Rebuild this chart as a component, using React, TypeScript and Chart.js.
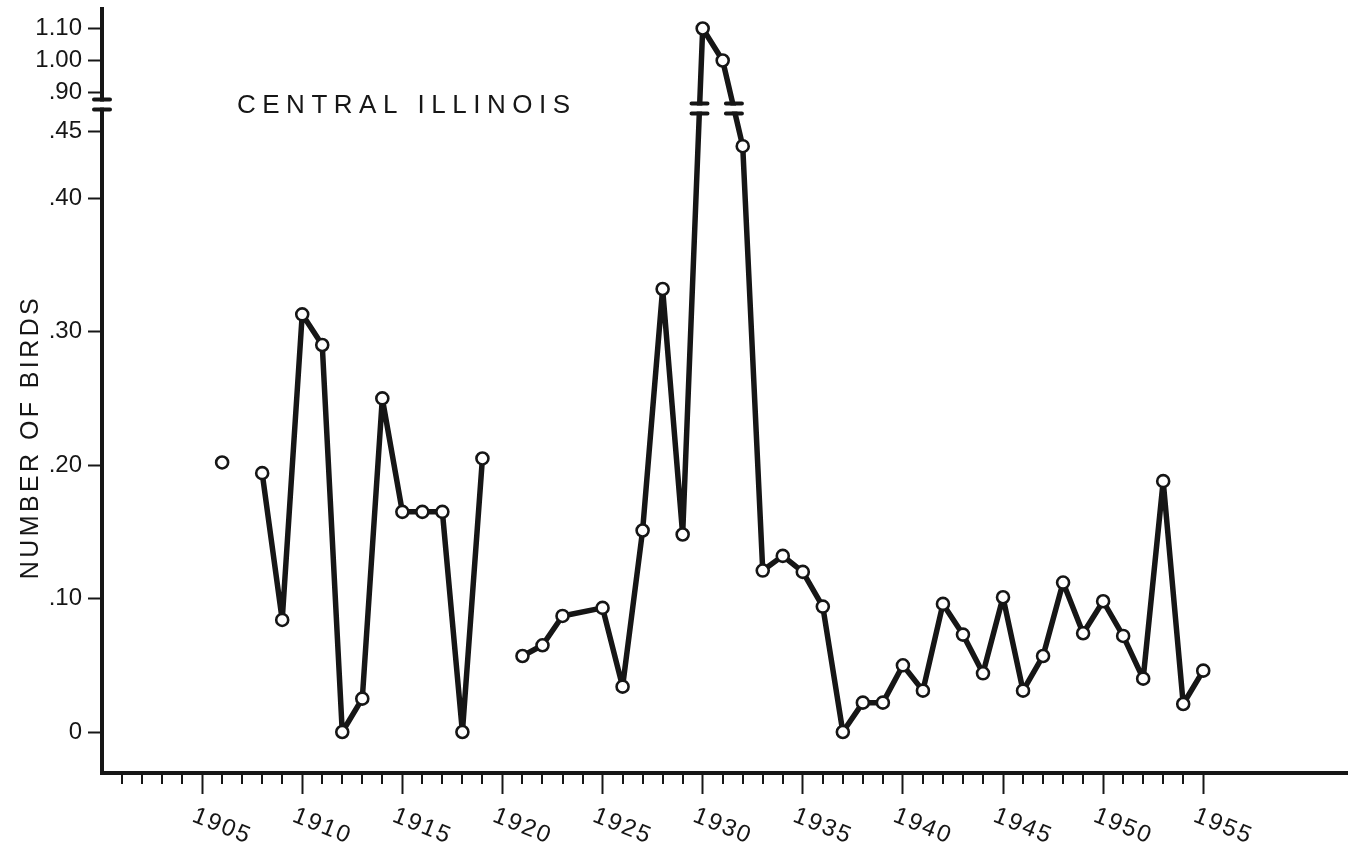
import React, { useEffect, useRef } from "react";
import { Chart, registerables } from "chart.js";

Chart.register(...registerables);

// ---- Data ----
const years = [
  1906, 1907, 1908, 1909, 1910, 1911, 1912, 1913, 1914, 1915, 1916, 1917, 1918, 1919, 1920,
  1921, 1922, 1923, 1925, 1926, 1927, 1928, 1929, 1930, 1931, 1932, 1933, 1934, 1935, 1936,
  1937, 1938, 1939, 1940, 1941, 1942, 1943, 1944, 1945, 1946, 1947, 1948, 1949, 1950, 1951,
  1952, 1953, 1954, 1955,
];
const birds: (number | null)[] = [
  0.202, null, 0.194, 0.084, 0.313, 0.29, 0.0, 0.025, 0.25, 0.165, 0.165, 0.165, 0.0, 0.205, null,
  0.057, 0.065, 0.087, 0.093, 0.034, 0.151, 0.332, 0.148, 1.1, 1.0, 0.439, 0.121, 0.132, 0.12, 0.094,
  0.0, 0.022, 0.022, 0.05, 0.031, 0.096, 0.073, 0.044, 0.101, 0.031, 0.057, 0.112, 0.074, 0.098, 0.072,
  0.04, 0.188, 0.021, 0.046,
];

const yTickValues = [0, 0.1, 0.2, 0.3, 0.4, 0.45, 0.9, 1.0, 1.1];
const yTickLabels = ["0", ".10", ".20", ".30", ".40", ".45", ".90", "1.00", "1.10"];
const xLabelYears = [1905, 1910, 1915, 1920, 1925, 1930, 1935, 1940, 1945, 1950, 1955];
const minorTickYears = [
  1901, 1902, 1903, 1904, 1906, 1907, 1908, 1909, 1911, 1912, 1913, 1914, 1916, 1917, 1918, 1919,
  1921, 1922, 1923, 1924, 1926, 1927, 1928, 1929, 1931, 1932, 1933, 1934, 1936, 1937, 1938, 1939,
  1941, 1942, 1943, 1944, 1946, 1947, 1948, 1949, 1951, 1952, 1953, 1954,
];

const TITLE = "CENTRAL ILLINOIS";
const Y_TITLE = "NUMBER OF BIRDS";

// ---- Broken-axis mapping ----
const LOWER_MAX = 0.45;
const UPPER_MIN = 0.9;
const BREAK_GAP = 0.0292;
const UPPER_SCALE = 0.24;
const toAxis = (v: number) =>
  v > 0.6 ? LOWER_MAX + BREAK_GAP + (v - UPPER_MIN) * UPPER_SCALE : v;
const AXIS_BREAK = 0.4702;
const LINE_BREAK = 0.4672;

const INK = "#161616";
const FONT = '"Liberation Sans", Arial, sans-serif';

const decorPlugin = {
  id: "decor",
  beforeDraw(chart: any) {
    const ctx = chart.ctx;
    ctx.save();
    ctx.fillStyle = "#ffffff";
    ctx.fillRect(0, 0, chart.width, chart.height);
    ctx.restore();
  },
  afterDraw(chart: any) {
    const ctx = chart.ctx as CanvasRenderingContext2D;
    const xs = chart.scales.x;
    const ys = chart.scales.y;
    const { left, bottom } = chart.chartArea;

    ctx.save();
    // minor year ticks
    ctx.strokeStyle = INK;
    ctx.lineWidth = 2;
    for (const yr of minorTickYears) {
      const px = Math.round(xs.getPixelForValue(yr));
      ctx.beginPath();
      ctx.moveTo(px, bottom);
      ctx.lineTo(px, bottom + 11);
      ctx.stroke();
    }

    // rotated year labels
    ctx.fillStyle = INK;
    ctx.font = `24px ${FONT}`;
    (ctx as any).letterSpacing = "2px";
    ctx.textAlign = "left";
    ctx.textBaseline = "alphabetic";
    for (const yr of xLabelYears) {
      const px = xs.getPixelForValue(yr);
      ctx.save();
      ctx.translate(px - 11, bottom + 48);
      ctx.rotate((22 * Math.PI) / 180);
      ctx.fillText(String(yr), 0, 0);
      ctx.restore();
    }
    (ctx as any).letterSpacing = "0px";

    // y-axis break
    const yb = ys.getPixelForValue(AXIS_BREAK);
    ctx.fillStyle = "#ffffff";
    ctx.fillRect(left - 5, yb - 3, 10, 6);
    ctx.strokeStyle = INK;
    ctx.lineCap = "round";
    ctx.lineWidth = 4;
    ctx.beginPath();
    ctx.moveTo(left - 8, yb - 5);
    ctx.lineTo(left + 8, yb - 5);
    ctx.moveTo(left - 8, yb + 5);
    ctx.lineTo(left + 8, yb + 5);
    ctx.stroke();

    // line breaks where a segment crosses the axis break
    const meta = chart.getDatasetMeta(0);
    const ly = ys.getPixelForValue(LINE_BREAK);
    for (let i = 0; i < birds.length - 1; i++) {
      const v0 = birds[i];
      const v1 = birds[i + 1];
      if (v0 == null || v1 == null) continue;
      if (v0 > 0.6 === v1 > 0.6) continue;
      const p0 = meta.data[i];
      const p1 = meta.data[i + 1];
      const t = (ly - p0.y) / (p1.y - p0.y);
      const xb = p0.x + t * (p1.x - p0.x);
      ctx.fillStyle = "#ffffff";
      ctx.fillRect(xb - 7, ly - 3, 14, 6);
      ctx.beginPath();
      ctx.moveTo(xb - 8, ly - 5);
      ctx.lineTo(xb + 8, ly - 5);
      ctx.moveTo(xb - 8, ly + 5);
      ctx.lineTo(xb + 8, ly + 5);
      ctx.stroke();
    }

    // chart title
    ctx.fillStyle = INK;
    ctx.font = `26px ${FONT}`;
    (ctx as any).letterSpacing = "6.5px";
    ctx.textAlign = "left";
    ctx.textBaseline = "alphabetic";
    ctx.fillText(TITLE, 237, 113);

    // y-axis title
    (ctx as any).letterSpacing = "3.4px";
    ctx.font = `25px ${FONT}`;
    ctx.translate(38, 437);
    ctx.rotate(-Math.PI / 2);
    ctx.textAlign = "center";
    ctx.fillText(Y_TITLE, 0, 0);
    ctx.restore();
  },
};

export default function App() {
  const ref = useRef<HTMLCanvasElement>(null);

  useEffect(() => {
    if (!ref.current) return;
    const chart = new Chart(ref.current, {
      type: "line",
      data: {
        datasets: [
          {
            data: years.map((yr, i) => ({
              x: yr,
              y: birds[i] == null ? null : toAxis(birds[i] as number),
            })) as any,
            borderColor: INK,
            borderWidth: 5.5,
            borderJoinStyle: "round",
            borderCapStyle: "round",
            pointRadius: 6,
            pointBorderWidth: 2.6,
            pointBackgroundColor: "#ffffff",
            pointBorderColor: INK,
            tension: 0,
            spanGaps: false,
            fill: false,
          },
        ],
      },
      options: {
        animation: false,
        responsive: false,
        devicePixelRatio: 1,
        layout: { padding: { top: 8, right: 6, left: 0, bottom: 0 } },
        plugins: {
          legend: { display: false },
          tooltip: { enabled: false },
          title: { display: false },
        },
        scales: {
          x: {
            type: "linear",
            min: 1900,
            max: 1962.2,
            afterBuildTicks: (scale: any) => {
              scale.ticks = xLabelYears.map((v) => ({ value: v }));
            },
            afterFit: (scale: any) => {
              scale.height = 69;
              scale.paddingLeft = 0;
              scale.paddingRight = 0;
            },
            ticks: { display: false },
            grid: {
              display: true,
              drawOnChartArea: false,
              drawTicks: true,
              tickLength: 21,
              tickWidth: 2,
              tickColor: INK,
              color: INK,
            },
            border: { display: true, color: INK, width: 4 },
          },
          y: {
            type: "linear",
            min: -0.0307,
            max: 0.5421,
            afterBuildTicks: (scale: any) => {
              scale.ticks = yTickValues.map((v) => ({ value: toAxis(v) }));
            },
            afterFit: (scale: any) => {
              scale.width = 102;
              scale.paddingTop = 0;
              scale.paddingBottom = 0;
            },
            ticks: {
              autoSkip: false,
              color: INK,
              padding: 6,
              font: { family: "Liberation Sans", size: 24 },
              callback: (_v: any, i: number) => yTickLabels[i],
            },
            grid: {
              display: true,
              drawOnChartArea: false,
              drawTicks: true,
              tickLength: 14,
              tickWidth: 2,
              tickColor: INK,
              color: INK,
            },
            border: { display: true, color: INK, width: 4 },
          },
        },
      },
      plugins: [decorPlugin],
    });
    return () => chart.destroy();
  }, []);

  return (
    <canvas
      ref={ref}
      width={1356}
      height={842}
      style={{ position: "absolute", left: 0, top: 0, display: "block" }}
    />
  );
}
